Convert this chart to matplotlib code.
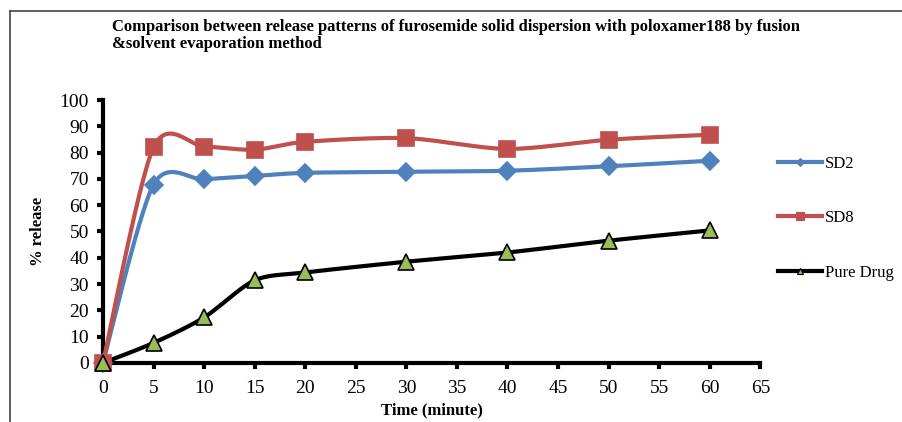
import numpy as np
import matplotlib
matplotlib.use("Agg")
import matplotlib.pyplot as plt
from matplotlib.lines import Line2D

# data
time_min = [0, 5, 10, 15, 20, 30, 40, 50, 60]
sd2 = [0, 67.8, 69.8, 71.1, 72.3, 72.7, 73.1, 74.8, 76.9]
sd8 = [0, 82.0, 82.3, 81.1, 84.1, 85.5, 81.4, 84.9, 86.8]
pure_drug = [0, 7.6, 17.3, 31.4, 34.4, 38.5, 42.0, 46.5, 50.4]

x_ticks = list(range(0, 70, 5))
y_ticks = list(range(0, 110, 10))

title = ("Comparison between release patterns of furosemide solid dispersion with poloxamer188 by fusion\n"
         "&solvent evaporation method")

plt.rcParams['font.family'] = ['Liberation Serif', 'DejaVu Serif']


def smooth(x, y, k=0.14, n=30):
    # excel-like smoothed line: catmull-rom style segments as cubic beziers
    p = np.column_stack([x, y]).astype(float)
    p = np.vstack([p[0], p, p[-1]])
    out = []
    t = np.linspace(0, 1, n)[:, None]
    for i in range(1, len(p) - 2):
        p0, p1, p2, p3 = p[i - 1], p[i], p[i + 1], p[i + 2]
        c1 = p1 + (p2 - p0) * k
        c2 = p2 - (p3 - p1) * k
        seg = ((1 - t) ** 3) * p1 + 3 * ((1 - t) ** 2) * t * c1 + 3 * (1 - t) * t ** 2 * c2 + t ** 3 * p2
        out.append(seg)
    out = np.vstack(out)
    return out[:, 0], out[:, 1]


fig = plt.figure(figsize=(9.03, 4.22), dpi=100)
ax = fig.add_axes([0.114, 0.14, 0.728, 0.623])

# values, line colour, marker, marker size, face colour, label, legend marker size
series = [
    (sd2, "#4F81BD", "D", 9, "#4F81BD", "SD2", 4),
    (sd8, "#C0504D", "s", 11, "#C0504D", "SD8", 6),
    (pure_drug, "black", "^", 11, "#9BBB59", "Pure Drug", 5),
]

for vals, col, mk, ms, fc, lab, lms in series:
    sx, sy = smooth(time_min, vals)
    ax.plot(sx, sy, color=col, lw=3, clip_on=False, zorder=3)
    ax.plot(time_min, vals, ls="none", marker=mk, ms=ms, mfc=fc,
            mec="black" if mk == "^" else fc, mew=1.2, clip_on=False, zorder=4)

ax.set_xlim(0, 65)
ax.set_ylim(0, 100)
ax.set_xticks(x_ticks)
ax.set_yticks(y_ticks)
ax.tick_params(axis="both", labelsize=14, width=3, length=4, direction="out", color="black")
ax.tick_params(axis="x", pad=8)
ax.tick_params(axis="y", pad=6)
for s in ["top", "right"]:
    ax.spines[s].set_visible(False)
for s in ["left", "bottom"]:
    ax.spines[s].set_linewidth(3)

ax.set_xlabel("Time (minute)", fontsize=12, fontweight="bold", labelpad=4)
ax.set_ylabel("% release", fontsize=12, fontweight="bold", labelpad=10)

fig.text(0.124, 1 - 19 / 422, title, fontsize=12, fontweight="bold", va="top", ha="left", linespacing=1.05)

handles = [Line2D([], [], color=col, lw=3, marker=mk, ms=lms, mfc=fc,
                  mec="black" if mk == "^" else fc, mew=0.8)
           for vals, col, mk, ms, fc, lab, lms in series]
labels = [s[5] for s in series]
fig.legend(handles, labels, loc="center left", bbox_to_anchor=(0.854, 0.483),
           frameon=False, fontsize=12, labelspacing=2.3, handlelength=2.64,
           handletextpad=0.18, borderaxespad=0)

# outer frame lines (left and top)
fig.add_artist(Line2D([0.011, 0.011], [0.0, 0.974], color="#444444", lw=1.2))
fig.add_artist(Line2D([0.011, 1.0], [0.974, 0.974], color="#444444", lw=1.2))

fig.savefig("out.png", dpi=100)
